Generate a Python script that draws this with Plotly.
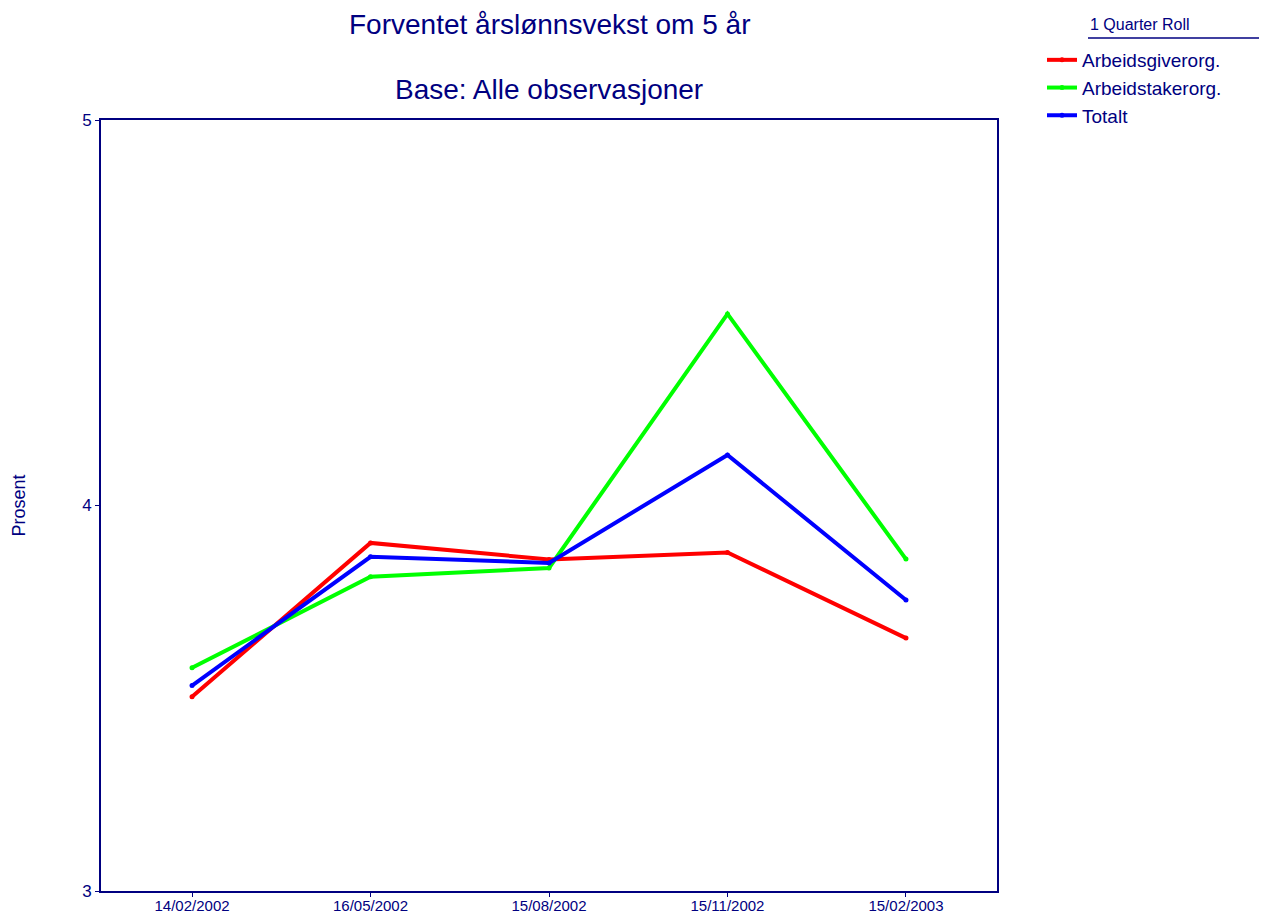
import plotly.graph_objects as go

dates = ["14/02/2002", "16/05/2002", "15/08/2002", "15/11/2002", "15/02/2003"]
arbeidsgiver = [3.504, 3.903, 3.860, 3.878, 3.656]
arbeidstaker = [3.579, 3.815, 3.838, 4.497, 3.861]
totalt = [3.533, 3.867, 3.851, 4.131, 3.755]

series = [
    ("Arbeidsgiverorg.", arbeidsgiver, "#ff0000"),
    ("Arbeidstakerorg.", arbeidstaker, "#00ff00"),
    ("Totalt", totalt, "#0000ff"),
]

NAVY = "#000080"
FONT = "Arial, Liberation Sans, sans-serif"

OFF = 8  # page body margin
W, H = 1267 - OFF, 914 - OFF
L, T = 101 - OFF, 120 - OFF
plot_w, plot_h = 896, 771
R = W - L - plot_w
B = H - T - plot_h


def px_x(sx):
    return (sx - OFF - L) / plot_w


def px_y(sy):
    return 1 + (T - (sy - OFF)) / plot_h


fig = go.Figure()
for name, vals, col in series:
    fig.add_trace(go.Scatter(
        x=list(range(len(dates))), y=vals, name=name, mode="lines+markers",
        legendgroup=name,
        line=dict(color=col, width=4), marker=dict(color=col, size=5),
    ))

fig.update_layout(
    width=W, height=H,
    paper_bgcolor="white", plot_bgcolor="white",
    margin=dict(l=L, r=R, t=T, b=B, autoexpand=False),
    font=dict(family=FONT, color=NAVY),
    showlegend=True,
    legend=dict(
        x=px_x(1042), y=px_y(41), xanchor="left", yanchor="top",
        font=dict(size=19, color=NAVY, family=FONT),
        bgcolor="rgba(0,0,0,0)", tracegroupgap=0,
    ),
    xaxis=dict(
        tickmode="array", tickvals=list(range(len(dates))), ticktext=dates,
        range=[-0.51, 4.51], showgrid=False, zeroline=False,
        showline=True, linecolor=NAVY, linewidth=2, mirror=True,
        ticks="outside", ticklen=4, tickcolor=NAVY, ticklabelstandoff=-4,
        tickfont=dict(size=15, color=NAVY, family=FONT),
    ),
    yaxis=dict(
        range=[3, 5], tickvals=[3, 4, 5], showgrid=False, zeroline=False,
        showline=True, linecolor=NAVY, linewidth=2, mirror=True,
        ticks="outside", ticklen=4, tickcolor=NAVY,
        tickfont=dict(size=17, color=NAVY, family=FONT),
    ),
)

fig.add_annotation(text="Forventet årslønnsvekst om 5 år", x=0.5, y=px_y(24),
                   xref="paper", yref="paper", yanchor="middle",
                   showarrow=False, font=dict(size=28, color=NAVY, family=FONT))
fig.add_annotation(text="Base: Alle observasjoner", x=0.5, y=px_y(90),
                   xref="paper", yref="paper", yanchor="middle",
                   showarrow=False, font=dict(size=28, color=NAVY, family=FONT))
fig.add_annotation(text="Prosent", x=px_x(18), y=0.5, textangle=-90,
                   xref="paper", yref="paper", xanchor="center", yanchor="middle",
                   showarrow=False, font=dict(size=18, color=NAVY, family=FONT))
fig.add_annotation(text="1 Quarter Roll", x=px_x(1088), y=px_y(24),
                   xref="paper", yref="paper", xanchor="left", yanchor="middle",
                   showarrow=False, font=dict(size=16, color=NAVY, family=FONT))

# underline under legend heading
fig.add_shape(type="line", xref="paper", yref="paper",
              x0=px_x(1088), x1=px_x(1267),
              y0=px_y(38), y1=px_y(38),
              line=dict(color=NAVY, width=1.5))

fig.write_html("out.html")
